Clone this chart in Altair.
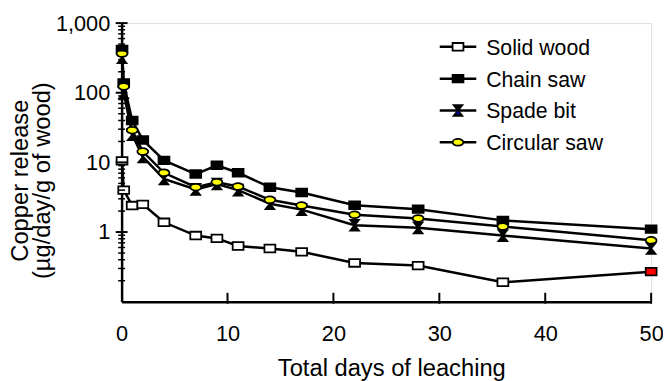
import altair as alt
import pandas as pd

# ---- data ----
days = [0.04, 0.2, 1, 2, 4, 7, 9, 11, 14, 17, 22, 28, 36, 50]
solid_wood = [10.5, 4.0, 2.4, 2.5, 1.38, 0.89, 0.81, 0.63, 0.58, 0.52, 0.36, 0.33, 0.19, 0.27]
chain_saw = [420, 138, 40, 21, 10.7, 6.8, 9.1, 7.1, 4.4, 3.7, 2.43, 2.13, 1.47, 1.10]
spade_bit = [320, 100, 25, 12, 5.8, 4.1, 4.9, 4.0, 2.55, 2.1, 1.25, 1.15, 0.89, 0.58]
circular_saw = [365, 123, 29, 14.3, 7.1, 4.4, 5.2, 4.5, 2.9, 2.4, 1.77, 1.57, 1.2, 0.76]

names = ["Solid wood", "Chain saw", "Spade bit", "Circular saw"]
series_values = [solid_wood, chain_saw, spade_bit, circular_saw]

y_major = [1, 10, 100, 1000]
y_minor = [m * 10 ** e for e in (-1, 0, 1, 2) for m in range(2, 10)]
x_ticks = [10, 20, 30, 40, 50]

rows = []
for name, vals in zip(names, series_values):
    for i, (d, v) in enumerate(zip(days, vals)):
        rows.append({"series": name, "day": d, "value": v,
                     "hl": name == "Solid wood" and i == len(days) - 1})
df = pd.DataFrame(rows)

W, H = 536, 282
FONT = "Liberation Sans"

rect = "M-1,-0.7L1,-0.7L1,0.7L-1,0.7Z"
hourglass = "M-0.8,-1L0.8,-1L-0.8,1L0.8,1Z"
ellipse = "M-1,0A1,0.62 0 1,0 1,0A1,0.62 0 1,0 -1,0Z"

shape_scale = alt.Scale(domain=names, range=[rect, rect, hourglass, ellipse])
fill_scale = alt.Scale(domain=names, range=["#ffffff", "#000000", "#000000", "#ffff00"])

x_enc = alt.X("day:Q", scale=alt.Scale(domain=[0, 50], nice=False, zero=False),
              axis=alt.Axis(values=[0, 10, 20, 30, 40, 50], ticks=False, grid=False,
                            domainColor="black", domainWidth=2.5, labelFlush=False,
                            labelFont=FONT, labelFontSize=22, labelColor="black",
                            labelPadding=39, labelBaseline="alphabetic",
                            title="Total days of leaching", titleFont=FONT,
                            titleFontSize=24, titleFontWeight="normal", titleColor="black",
                            titleX=273, titleY=75, titleBaseline="alphabetic",
                            titleAlign="center"))
y_scale = alt.Scale(type="log", domain=[0.1, 1000], nice=False)
y_enc = alt.Y("value:Q", scale=y_scale,
              axis=alt.Axis(values=y_major, format=",", ticks=False, grid=False,
                            domainColor="black", domainWidth=2.5,
                            labelFont=FONT, labelFontSize=22, labelColor="black",
                            labelPadding=12,
                            title=["Copper release\u00a0\u00a0\u00a0\u00a0",
                                   "(µg/day/g of wood)"],
                            titleFont=FONT, titleFontSize=24, titleFontWeight="normal",
                            titleColor="black", titleAngle=-90, titleX=-114,
                            titleY=159, titleAlign="center", titleBaseline="top",
                            titleLineHeight=22))

lines = alt.Chart(df).mark_line(color="black", strokeWidth=2.5).encode(
    x=x_enc, y=y_enc, detail="series:N", order="day:Q")

points = alt.Chart(df).mark_point(filled=True, stroke="black", strokeWidth=1.8,
                                  opacity=1, size=121).encode(
    x="day:Q", y=alt.Y("value:Q", scale=y_scale),
    shape=alt.Shape("series:N", scale=shape_scale, legend=None),
    fill=alt.condition("datum.hl", alt.value("#ff0000"),
                       alt.Fill("series:N", scale=fill_scale, legend=None)))

minor_df = pd.DataFrame({"v": y_minor})
major_df = pd.DataFrame({"v": y_major})
xt_df = pd.DataFrame({"d": x_ticks})

ymin_ticks = alt.Chart(minor_df).mark_rule(color="black", strokeWidth=1.5).encode(
    y=alt.Y("v:Q", scale=y_scale), x=alt.value(-3.5), x2=alt.value(3.5))
ymaj_ticks = alt.Chart(major_df).mark_rule(color="black", strokeWidth=2).encode(
    y=alt.Y("v:Q", scale=y_scale), x=alt.value(-6), x2=alt.value(6))
x_tick_marks = alt.Chart(xt_df).mark_rule(color="black", strokeWidth=2).encode(
    x=alt.X("d:Q"), y=alt.value(H - 9), y2=alt.value(H + 2))

main = alt.layer(lines, points, ymin_ticks, ymaj_ticks, x_tick_marks)

# ---- legend ----
leg_df = pd.DataFrame({"series": names})
leg_y = alt.Y("series:N", scale=alt.Scale(type="point", domain=names, range=[24, 120.7],
                                          padding=0), axis=None)
leg_line = alt.Chart(leg_df).mark_rule(color="black", strokeWidth=2.5).encode(
    y=leg_y, x=alt.value(322), x2=alt.value(359))
leg_pts = alt.Chart(leg_df).mark_point(filled=True, stroke="black", strokeWidth=1.8,
                                       opacity=1, size=121).encode(
    y=leg_y, x=alt.value(340.5),
    shape=alt.Shape("series:N", scale=shape_scale, legend=None),
    fill=alt.Fill("series:N", scale=fill_scale, legend=None))
leg_blue = alt.Chart(leg_df).transform_filter("datum.series == 'Spade bit'").mark_point(
    filled=True, shape="triangle-up", color="#0000cc", size=14, opacity=1, yOffset=2).encode(
    y=leg_y, x=alt.value(340.5))
leg_text = alt.Chart(leg_df).mark_text(align="left", baseline="middle", dy=2,
                                       font=FONT, fontSize=21.5, color="black").encode(
    y=leg_y, x=alt.value(369), text="series:N")
legend = alt.layer(leg_line, leg_pts, leg_blue, leg_text)

chart = alt.layer(main, legend).resolve_scale(y="independent").properties(
    width=W, height=H,
    autosize=alt.AutoSizeParams(type="none"),
    padding={"left": 115, "top": 13, "right": 12, "bottom": 78},
).configure_view(stroke=None).configure(background="white")

chart.save("out.html", embed_options={"renderer": "svg", "actions": False})
